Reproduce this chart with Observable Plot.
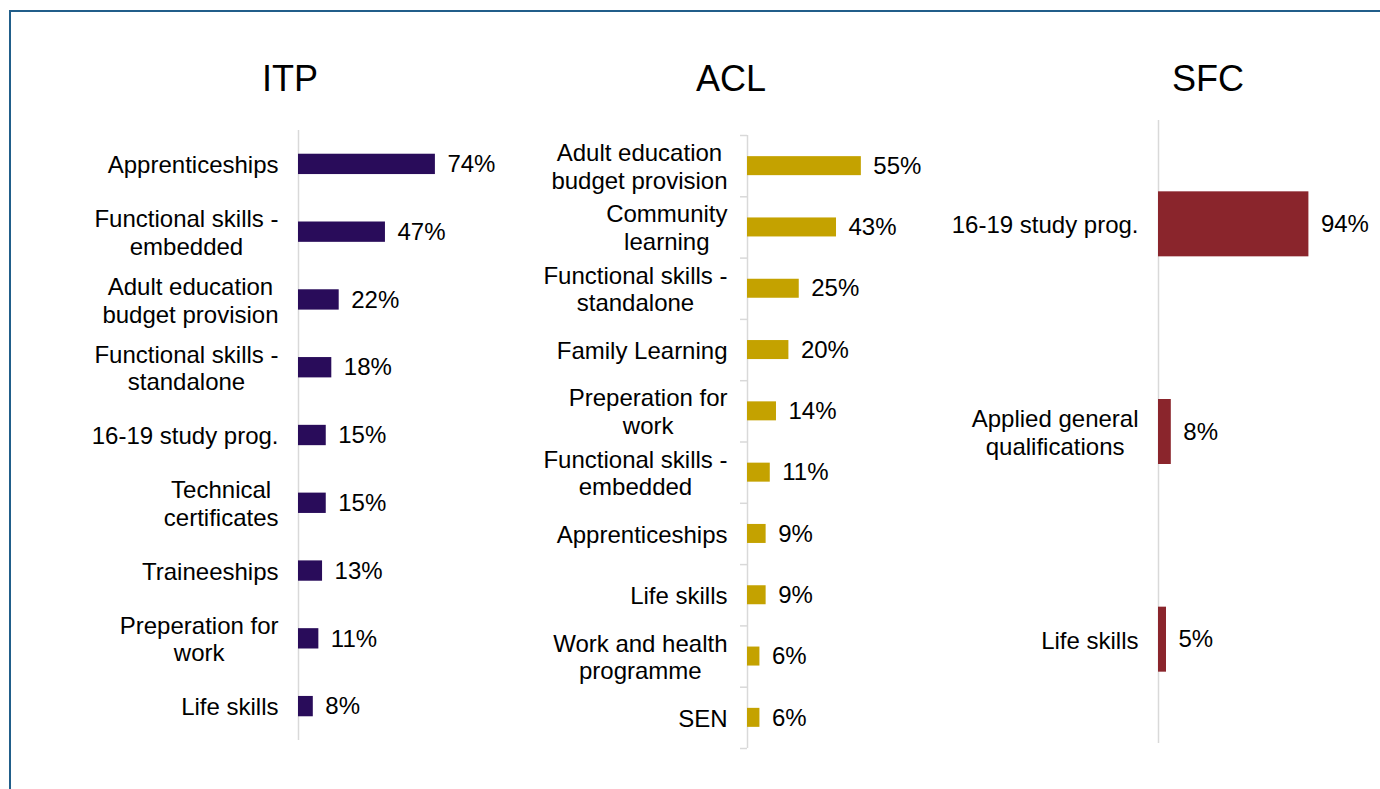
<!DOCTYPE html>
<html>
<head>
<meta charset="utf-8">
<script src="https://cdn.jsdelivr.net/npm/d3@7"></script>
<script src="https://cdn.jsdelivr.net/npm/@observablehq/plot@0.6"></script>
<style>
  html, body { margin: 0; padding: 0; background: #fff; overflow: hidden; }
  #root { position: relative; width: 1380px; height: 789px; overflow: hidden; font-family: "Liberation Sans", Arial, sans-serif; }
  #frame { position: absolute; left: 9px; top: 10px; width: 1400px; height: 800px; border: 2px solid #215E8A; box-sizing: border-box; }
  .title { position: absolute; top: 61px; width: 200px; margin-left: -100px; text-align: center; font-size: 36px; line-height: 36px; color: #000; }
  .panel { position: absolute; }
</style>
</head>
<body>
<div id="root">
  <div id="frame"></div>
</div>
<script>
// ---- Data ----
const panelTitles = ["ITP", "ACL", "SFC"];

const itpCats = ["Apprenticeships", "Functional skills -\nembedded", "Adult education\nbudget provision", "Functional skills -\nstandalone", "16-19 study prog.", "Technical\ncertificates", "Traineeships", "Preperation for\nwork", "Life skills"];
const itpVals = [74, 47, 22, 18, 15, 15, 13, 11, 8];

const aclCats = ["Adult education\nbudget provision", "Community\nlearning", "Functional skills -\nstandalone", "Family Learning", "Preperation for\nwork", "Functional skills -\nembedded", "Apprenticeships", "Life skills", "Work and health\nprogramme", "SEN"];
const aclVals = [55, 43, 25, 20, 14, 11, 9, 9, 6, 6];

const sfcCats = ["16-19 study prog.", "Applied general\nqualifications", "Life skills"];
const sfcVals = [94, 8, 5];

// ---- Helpers ----
const FONT = "Liberation Sans, Arial, sans-serif";
const FS = 24;
const ctx = document.createElement("canvas").getContext("2d");
ctx.font = `${FS}px "Liberation Sans", Arial, sans-serif`;
const blockWidth = s => Math.max(...s.split("\n").map(l => ctx.measureText(l).width));

function panel({cats, vals, color, left, top, width, height, marginLeft, marginTop, marginBottom, marginRight, padIn, ticks}) {
  const data = cats.map((c, i) => ({c, v: vals[i]}));
  const step = (height - marginTop - marginBottom) / cats.length;
  const marks = [
    Plot.ruleX([0], {stroke: "#d9d9d9", strokeWidth: 1.5}),
    Plot.barX(data, {x: "v", y: "c", fill: color}),
    Plot.text(data, {x: "v", y: "c", text: d => d.v + "%", textAnchor: "start", dx: 12, fontSize: FS, fill: "#000"}),
    ...cats.map(c => Plot.text([c], {x: () => 0, y: d => d, text: d => d, textAnchor: "middle", lineAnchor: "middle", lineHeight: 1.15, dx: -20 - blockWidth(c) / 2, fontSize: FS, fill: "#000"}))
  ];
  if (ticks) {
    marks.push(Plot.ruleY(cats, {y: d => d, x1: 0, x2: 0, insetLeft: -7, dy: -step / 2, stroke: "#d9d9d9", strokeWidth: 1.5}));
    marks.push(Plot.ruleY([cats[cats.length - 1]], {y: d => d, x1: 0, x2: 0, insetLeft: -7, dy: step / 2, stroke: "#d9d9d9", strokeWidth: 1.5}));
  }
  const svg = Plot.plot({
    width, height, marginLeft, marginTop, marginBottom, marginRight,
    style: {background: "transparent", overflow: "visible", fontFamily: FONT, maxWidth: "none"},
    x: {domain: [0, 100], axis: null},
    y: {domain: cats, axis: null, paddingInner: padIn, paddingOuter: padIn / 2, round: false},
    marks
  });
  const wrap = document.createElement("div");
  wrap.className = "panel";
  wrap.style.left = left + "px";
  wrap.style.top = top + "px";
  wrap.appendChild(svg);
  document.getElementById("root").appendChild(wrap);
}

panel({cats: itpCats, vals: itpVals, color: "#290C5A", left: 20, top: 100, width: 520, height: 660,
  marginLeft: 278, marginTop: 30, marginBottom: 20, marginRight: 57, padIn: 0.7, ticks: false});
panel({cats: aclCats, vals: aclVals, color: "#C4A200", left: 470, top: 100, width: 500, height: 670,
  marginLeft: 277, marginTop: 35, marginBottom: 22, marginRight: 16, padIn: 0.69, ticks: true});
panel({cats: sfcCats, vals: sfcVals, color: "#8A252C", left: 900, top: 100, width: 480, height: 670,
  marginLeft: 258, marginTop: 20, marginBottom: 27, marginRight: 62, padIn: 0.687, ticks: false});

// Titles
const titleX = [290, 731, 1208];
panelTitles.forEach((t, i) => {
  const d = document.createElement("div");
  d.className = "title";
  d.style.left = titleX[i] + "px";
  d.textContent = t;
  document.getElementById("root").appendChild(d);
});
</script>
</body>
</html>
